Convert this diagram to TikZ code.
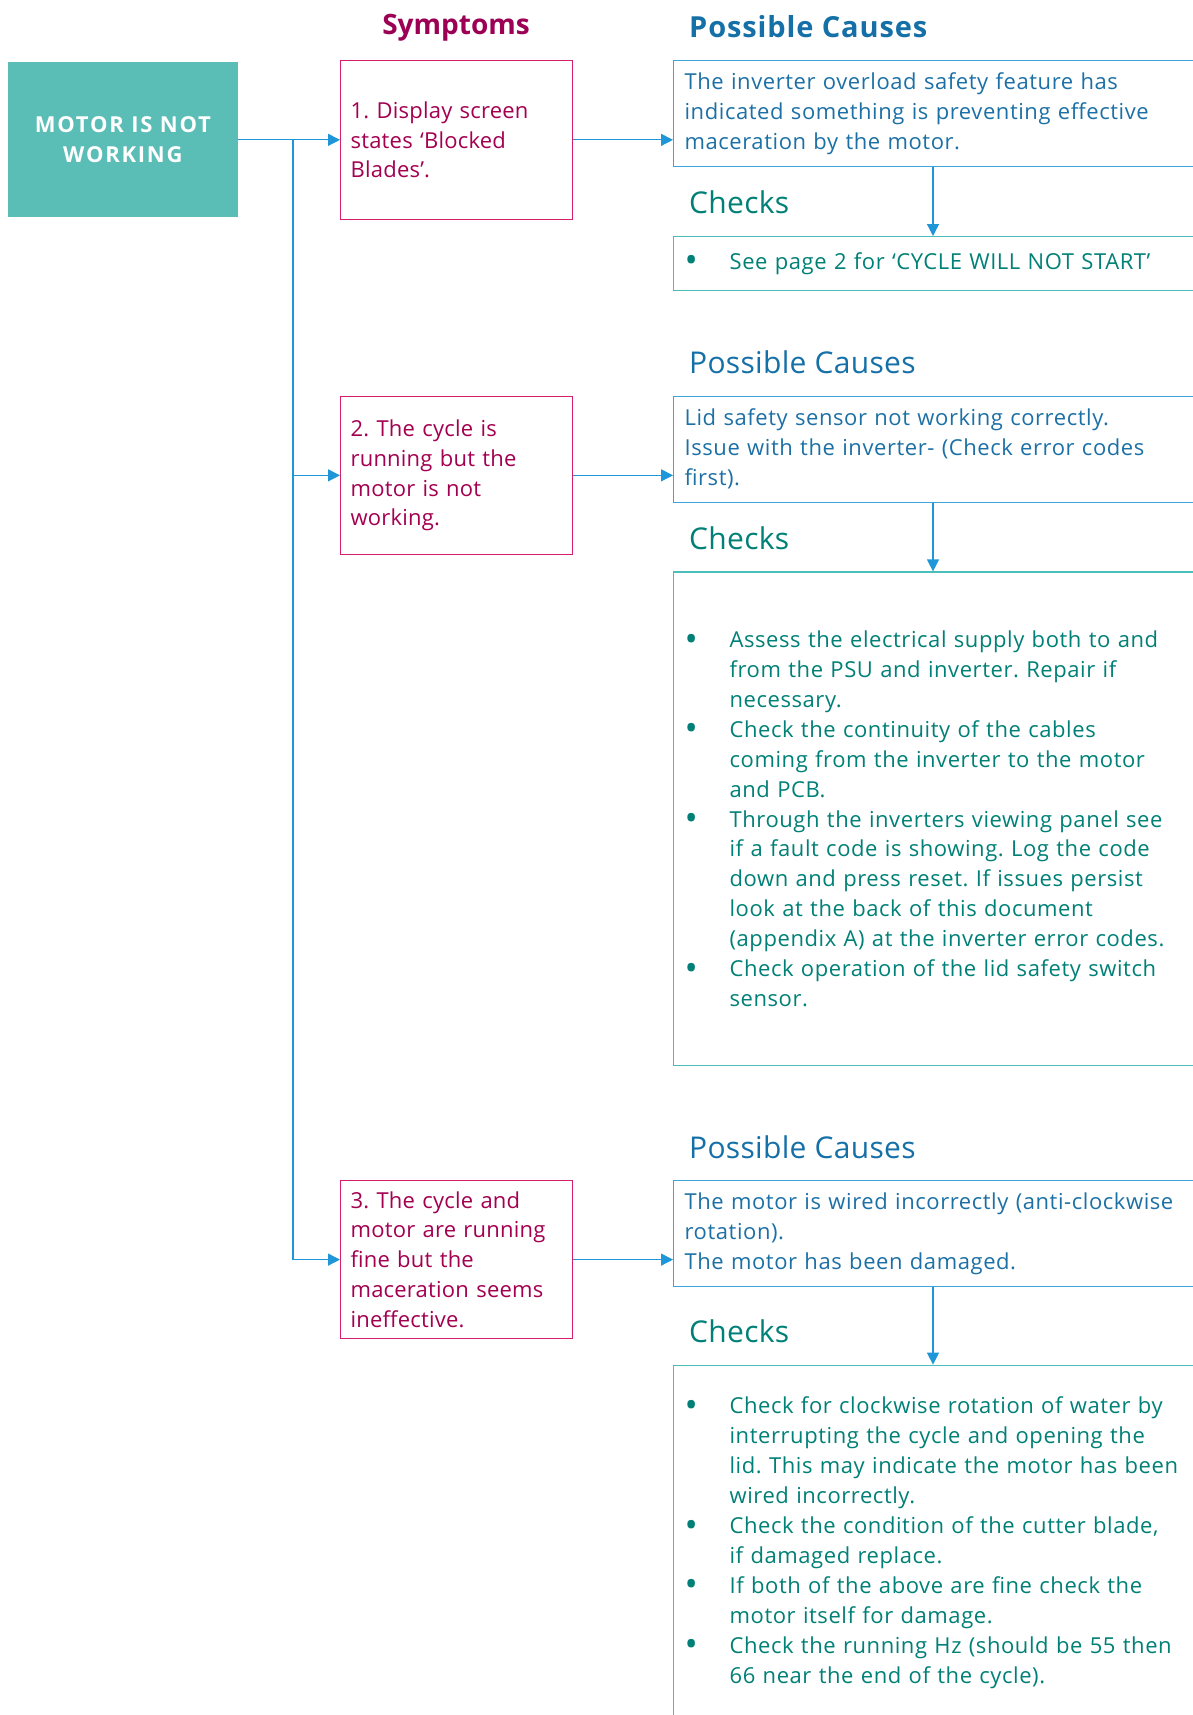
\documentclass[tikz,border=0pt]{standalone}
\usepackage{fontspec}
\setmainfont{Open Sans}
\usetikzlibrary{arrows.meta}
\definecolor{motorfill}{RGB}{90,189,182}
\definecolor{symborder}{RGB}{214,30,110}
\definecolor{symtext}{RGB}{163,0,80}
\definecolor{symhead}{RGB}{155,0,85}
\definecolor{causehead}{RGB}{22,112,168}
\definecolor{causetext}{RGB}{28,112,165}
\definecolor{causeborder}{RGB}{60,165,220}
\definecolor{arrowc}{RGB}{30,150,215}
\definecolor{checktext}{RGB}{0,128,118}
\definecolor{checkborder}{RGB}{75,190,185}
\newcommand{\bul}{\makebox[43pt][l]{\hspace*{-2pt}\raisebox{-0.16em}{\scalebox{1.6}{\textbullet}}}}
\newcommand{\ind}{\hspace*{43pt}}
\frenchspacing
\begin{document}
\begin{tikzpicture}[x=1pt,y=-1pt,
  body/.style={font=\frenchspacing\fontsize{22}{29.9}\selectfont\addfontfeature{LetterSpace=1}, align=left, inner ysep=0pt},
  spaced/.style={font=\frenchspacing\fontsize{22}{29.9}\selectfont\addfontfeature{LetterSpace=2.6}},
  symbox/.style={body, draw=symborder, line width=1.2pt, text=symtext, anchor=north west,
    text width=212pt, inner xsep=10pt},
  causebox/.style={body, spaced, draw=causeborder, line width=1.2pt, text=causetext, anchor=north west,
    text width=600pt, inner xsep=11pt},
  checkbox/.style={body, spaced, draw=checkborder, line width=1.2pt, text=checktext, anchor=north west,
    text width=600pt, inner xsep=13pt},
  bighead/.style={anchor=base west, inner sep=0pt, font=\bfseries\fontsize{29}{32}\selectfont\addfontfeature{LetterSpace=3}},
  head/.style={anchor=base west, inner sep=0pt, font=\fontsize{30}{32}\selectfont\addfontfeature{LetterSpace=1}},
  conn/.style={draw=arrowc, line width=1.3pt, -{Triangle[length=12pt,width=12pt]}},
  line/.style={draw=arrowc, line width=1.3pt}
]
\useasboundingbox (0,0) rectangle (1193,1715);
\clip (0,0) rectangle (1193,1715);

% main box
\node[fill=motorfill, text=white, font=\bfseries\fontsize{22}{29.5}\selectfont\addfontfeature{LetterSpace=8}, align=center,
  minimum width=230.6pt, minimum height=155.4pt, inner sep=0pt] (motor) at (122.9,139.7)
  {MOTOR IS NOT\\WORKING};

% headings
\node[bighead, text=symhead, anchor=base, font=\bfseries\fontsize{28}{32}\selectfont] (hsym) at (456,35) {Symptoms};
\node[bighead, text=causehead] (hpc1) at (689,38) {Possible Causes};
\node[head, text=checktext] (hck1) at (689,213) {Checks};
\node[head, text=causehead] (hpc2) at (689,373) {Possible Causes};
\node[head, text=checktext] (hck2) at (689,549) {Checks};
\node[head, text=causehead] (hpc3) at (689,1158) {Possible Causes};
\node[head, text=checktext] (hck3) at (689,1342) {Checks};

% symptom boxes
\node[symbox, minimum height=158.5pt] (s1) at (340,60)
  {1. Display screen\\states ‘Blocked\\Blades’.};
\node[symbox, minimum height=158.5pt] (s2) at (340,395.5)
  {2. The cycle is\\running but the\\motor is not\\working.};
\node[symbox, minimum height=158pt] (s3) at (340,1180)
  {3. The cycle and\\motor are running\\fine but the\\maceration seems\\ineffective.};

% cause boxes
\node[causebox, minimum height=106pt] (c1) at (673,60)
  {The inverter overload safety feature has\\indicated something is preventing effective\\maceration by the motor.};
\node[causebox, minimum height=106pt] (c2) at (673,395.5)
  {Lid safety sensor not working correctly.\\Issue with the inverter- (Check error codes\\first).};
\node[causebox, minimum height=106pt] (c3) at (673,1180)
  {The motor is wired incorrectly (anti-clockwise\\rotation).\\The motor has been damaged.};

% check boxes
\node[checkbox, minimum height=53.5pt] (k1) at (673,236)
  {\bul See page 2 for ‘CYCLE WILL NOT START’};
\node[checkbox, minimum height=493.6pt] (k2) at (673,571.4)
  {\bul Assess the electrical supply both to and\\
   \ind from the PSU and inverter. Repair if\\
   \ind necessary.\\
   \bul Check the continuity of the cables\\
   \ind coming from the inverter to the motor\\
   \ind and PCB.\\
   \bul Through the inverters viewing panel see\\
   \ind if a fault code is showing. Log the code\\
   \ind down and press reset. If issues persist\\
   \ind look at the back of this document\\
   \ind (appendix A) at the inverter error codes.\\
   \bul Check operation of the lid safety switch\\
   \ind sensor.};
\node[checkbox, minimum height=355pt] (k3) at (673,1364.6)
  {\bul Check for clockwise rotation of water by\\
   \ind interrupting the cycle and opening the\\
   \ind lid. This may indicate the motor has been\\
   \ind wired incorrectly.\\
   \bul Check the condition of the cutter blade,\\
   \ind if damaged replace.\\
   \bul If both of the above are fine check the\\
   \ind motor itself for damage.\\
   \bul Check the running Hz (should be 55 then\\
   \ind 66 near the end of the cycle).};

% connectors
\coordinate (j) at (293,139);
\draw[conn] (motor.east |- s1.west) -- (s1.west);
\draw[line] (j) -- (j |- s3.west);
\draw[conn] (j) |- (s2.west);
\draw[conn] (j) |- (s3.west);

\draw[conn] (s1.east) -- (s1.east -| c1.west);
\draw[conn] (s2.east) -- (s2.east -| c2.west);
\draw[conn] (s3.east) -- (s3.east -| c3.west);

\draw[conn] ([xshift=260pt]c1.south west) -- ([xshift=260pt]k1.north west);
\draw[conn] ([xshift=260pt]c2.south west) -- ([xshift=260pt]k2.north west);
\draw[conn] ([xshift=260pt]c3.south west) -- ([xshift=260pt]k3.north west);
\end{tikzpicture}
\end{document}
